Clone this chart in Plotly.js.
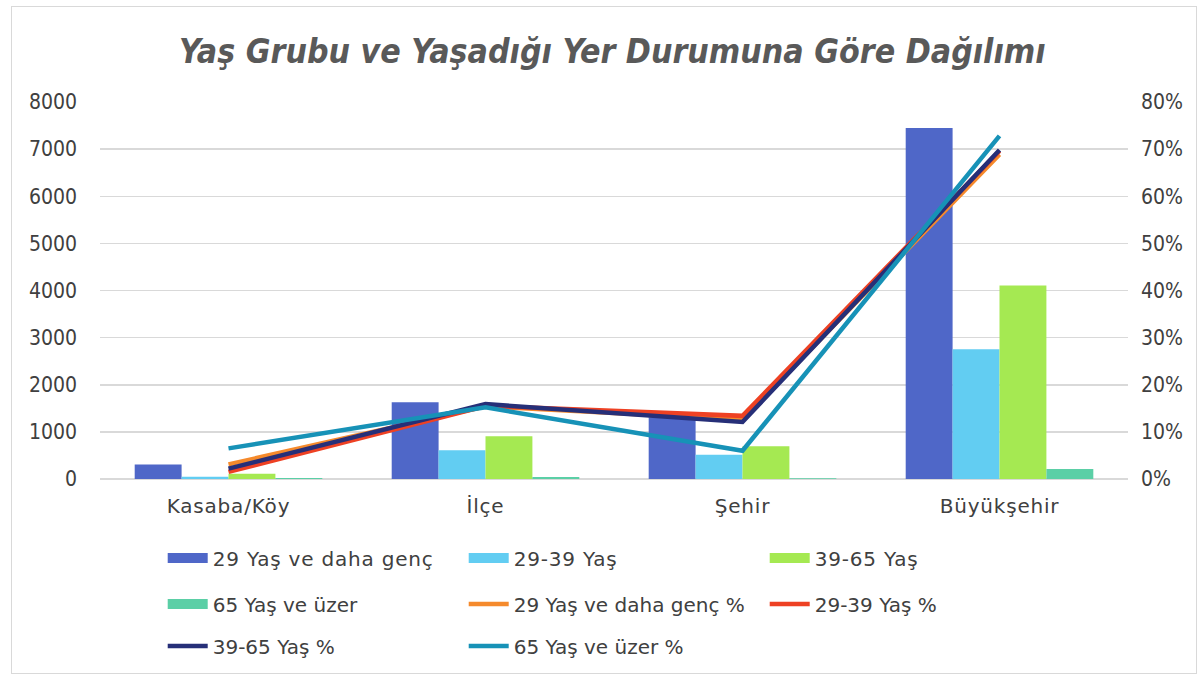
<!DOCTYPE html>
<html><head><meta charset="utf-8">
<script src="https://cdn.plot.ly/plotly-3.0.1.min.js"></script>
<style>
html,body{margin:0;padding:0;background:#fff;}
#frame{position:absolute;left:11px;top:6px;width:1186px;height:668px;border:1px solid #d9d9d9;box-sizing:border-box;}
#chart{position:absolute;left:0;top:0;width:1203px;height:678px;}
#chart .legendtext, #chart .xtick text{letter-spacing:0.8px;}
</style></head><body>
<div id="frame"></div>
<div id="chart"></div>
<script>
const categories = ["Kasaba/Köy", "İlçe", "Şehir", "Büyükşehir"];
const barNames = ["29 Yaş ve daha genç", "29-39 Yaş", "39-65 Yaş", "65 Yaş ve üzer"];
const bar29Genc = [310, 1630, 1310, 7450];
const bar2939 = [50, 610, 516, 2754];
const bar3965 = [110, 906, 694, 4104];
const bar65Uzer = [19, 44, 17, 212];
const lineNames = ["29 Yaş ve daha genç %", "29-39 Yaş %", "39-65 Yaş %", "65 Yaş ve üzer %"];
const pct29Genc = [0.031, 0.154, 0.126, 0.689];
const pct2939 = [0.015, 0.155, 0.134, 0.696];
const pct3965 = [0.022, 0.159, 0.121, 0.698];
const pct65Uzer = [0.065, 0.152, 0.060, 0.728];

const barColors = ["#4F67C8", "#62CDF2", "#A5E952", "#5BCFA6"];
const lineColors = ["#F58A2C", "#EE4123", "#262F78", "#1792B7"];
const barData = [bar29Genc, bar2939, bar3965, bar65Uzer];
const lineData = [pct29Genc, pct2939, pct3965, pct65Uzer];
// legend rows: which legend each entry goes to (bars 0-3, lines 4-7)
const legendOf = ['legend', 'legend', 'legend', 'legend2', 'legend2', 'legend2', 'legend3', 'legend3'];

const traces = [];
barData.forEach((v, i) => traces.push({
  type: 'bar', x: categories, y: v, name: barNames[i],
  marker: {color: barColors[i]}, yaxis: 'y', showlegend: false
}));
lineData.forEach((v, i) => traces.push({
  type: 'scatter', mode: 'lines', x: categories, y: v, name: lineNames[i],
  line: {color: lineColors[i], width: 4.5}, yaxis: 'y2',
  legend: legendOf[4 + i], legendrank: 1 + i
}));
// legend-only entries for bars (wide rectangle swatches)
barData.forEach((v, i) => traces.push({
  type: 'scatter', mode: 'lines', x: [null], y: [null], name: barNames[i],
  line: {color: barColors[i], width: 13}, yaxis: 'y', legend: legendOf[i],
  legendrank: 0, hoverinfo: 'skip'
}));

const wide = "'DejaVu Sans', sans-serif";
const cond = "'DejaVu Sans Condensed', 'DejaVu Sans', sans-serif";
const legBase = {orientation: 'h', xanchor: 'left', yanchor: 'middle',
  entrywidth: 246, entrywidthmode: 'pixels', traceorder: 'normal',
  font: {family: wide, size: 20, color: '#404040'}, itemwidth: 40,
  bgcolor: 'rgba(0,0,0,0)'};
const lx = 0.061;
const layout = {
  width: 1203, height: 678,
  paper_bgcolor: 'rgba(0,0,0,0)', plot_bgcolor: 'rgba(0,0,0,0)',
  margin: {l: 100, r: 75, t: 102, b: 199},
  font: {family: wide, size: 20, color: '#404040'},
  title: {text: '<b><i>Yaş Grubu ve Yaşadığı Yer Durumuna Göre Dağılımı</i></b>',
    x: 0.509, xanchor: 'center', y: 0.925, yanchor: 'middle',
    font: {family: cond, size: 33.6, color: '#595959'}},
  barmode: 'group', bargap: 0.27, bargroupgap: 0,
  xaxis: {type: 'category', showgrid: false, zeroline: false, showline: false,
    ticks: '', ticklabelstandoff: 13, tickfont: {family: wide, size: 20, color: '#404040'}},
  yaxis: {range: [0, 8000], dtick: 1000, showgrid: true, gridcolor: '#d9d9d9', gridwidth: 1.5,
    zeroline: true, zerolinecolor: '#d9d9d9', zerolinewidth: 1.5, showline: false,
    ticks: '', ticklabelstandoff: 22, tickfont: {family: cond, size: 21, color: '#404040'}},
  yaxis2: {range: [0, 0.8], dtick: 0.1, tickformat: '.0%', overlaying: 'y', side: 'right',
    showgrid: false, zeroline: false, showline: false, ticks: '', ticklabelstandoff: 12,
    tickfont: {family: cond, size: 21, color: '#404040'}},
  showlegend: true,
  legend: Object.assign({}, legBase, {x: lx, y: (479 - 558) / 377}),
  legend2: Object.assign({}, legBase, {x: lx, y: (479 - 604) / 377}),
  legend3: Object.assign({}, legBase, {x: lx, y: (479 - 646) / 377})
};
Plotly.newPlot('chart', traces, layout, {displayModeBar: false, staticPlot: true});
</script>
</body></html>
